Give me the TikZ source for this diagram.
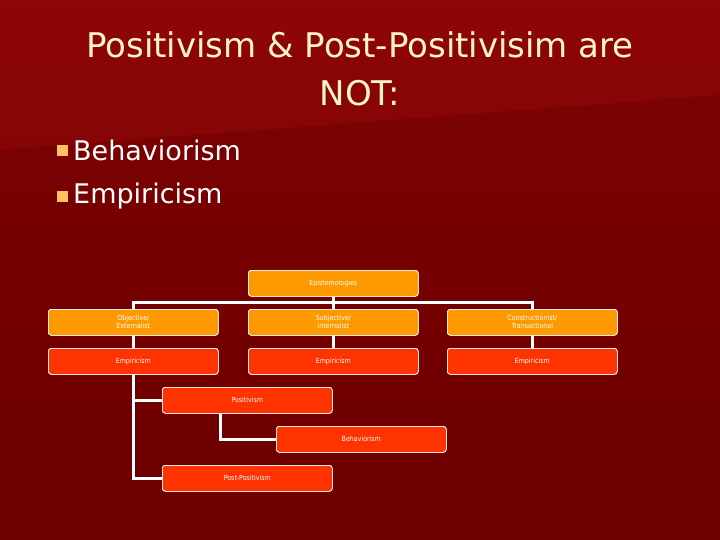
\documentclass[tikz,border=0pt]{standalone}
\usepackage{fontspec}
\setmainfont{DejaVu Sans}
\newfontfamily\boxfont{DejaVu Sans Condensed}
\begin{document}
\begin{tikzpicture}[x=1pt,y=-1pt,
  bx/.style={draw=white,line width=0.6pt,rounded corners=3pt,minimum width=170pt,minimum height=26pt,anchor=north west,inner sep=0pt,text=white,font=\boxfont\fontsize{7}{8}\selectfont,align=center},
  ob/.style={bx,fill=orange1},
  rb/.style={bx,fill=red1},
  ln/.style={draw=white,line width=3pt}]
\definecolor{orange1}{HTML}{FF9900}
\definecolor{red1}{HTML}{FF3300}
\definecolor{bgA}{HTML}{8E0606}
\definecolor{bgB}{HTML}{6E0000}
\definecolor{ttl}{HTML}{FFF5CC}
\definecolor{bul}{HTML}{FFC060}
\useasboundingbox (0,0) rectangle (720,540);
\shade[top color=bgA,bottom color=bgB] (0,0) rectangle (720,540);
\fill[bgB,opacity=0.5] (0,150) -- (720,95) -- (720,540) -- (0,540) -- cycle;
\node[text=ttl,font=\fontsize{34}{48}\selectfont,align=center] (t) at (360,69) {Positivism \& Post-Positivisim are\\NOT:};
\node[fill=bul,minimum size=11pt,inner sep=0pt] (b1) at (62,151) {};
\node[fill=bul,minimum size=11pt,inner sep=0pt] (b2) at (62,197) {};
\node[text=white,anchor=west,font=\fontsize{27}{30}\selectfont,inner sep=0pt] (l1) at (73,150) {Behaviorism};
\node[text=white,anchor=west,font=\fontsize{27}{30}\selectfont,inner sep=0pt] (l2) at (73,196) {Empiricism};
\node[ob] (ep) at (248,270) {Epistemologies};
\node[ob] (ob1) at (48,309) {Objective/\\Externalist};
\node[ob] (sb) at (248,309) {Subjective/\\Internalist};
\node[ob] (cn) at (447,309) {Constructionist/\\Transactional};
\node[rb] (e1) at (48,348) {Empiricism};
\node[rb] (e2) at (248,348) {Empiricism};
\node[rb] (e3) at (447,348) {Empiricism};
\node[rb] (po) at (162,387) {Positivism};
\node[rb] (be) at (276,426) {Behaviorism};
\node[rb] (pp) at (162,465) {Post-Positivism};
\draw[ln] (ep.south) -- ++(0,6) coordinate (m);
\draw[ln] (ob1.north) |- (m) -| (cn.north);
\draw[ln] (m) -- (sb.north);
\draw[ln] (ob1.south) -- (e1.north);
\draw[ln] (sb.south) -- (e2.north);
\draw[ln] (cn.south) -- (e3.north);
\draw[ln] (e1.south) |- (pp.west);
\draw[ln] (e1.south |- po.west) -- (po.west);
\draw[ln] ([xshift=-27pt]po.south) |- (be.west);
\foreach \n in {ep,ob1,sb,cn,e1,e2,e3,po,be,pp} {\node[draw=white,line width=0.6pt,rounded corners=3pt,minimum width=170pt,minimum height=26pt,inner sep=0pt] at (\n.center) {};}
\end{tikzpicture}
\end{document}
